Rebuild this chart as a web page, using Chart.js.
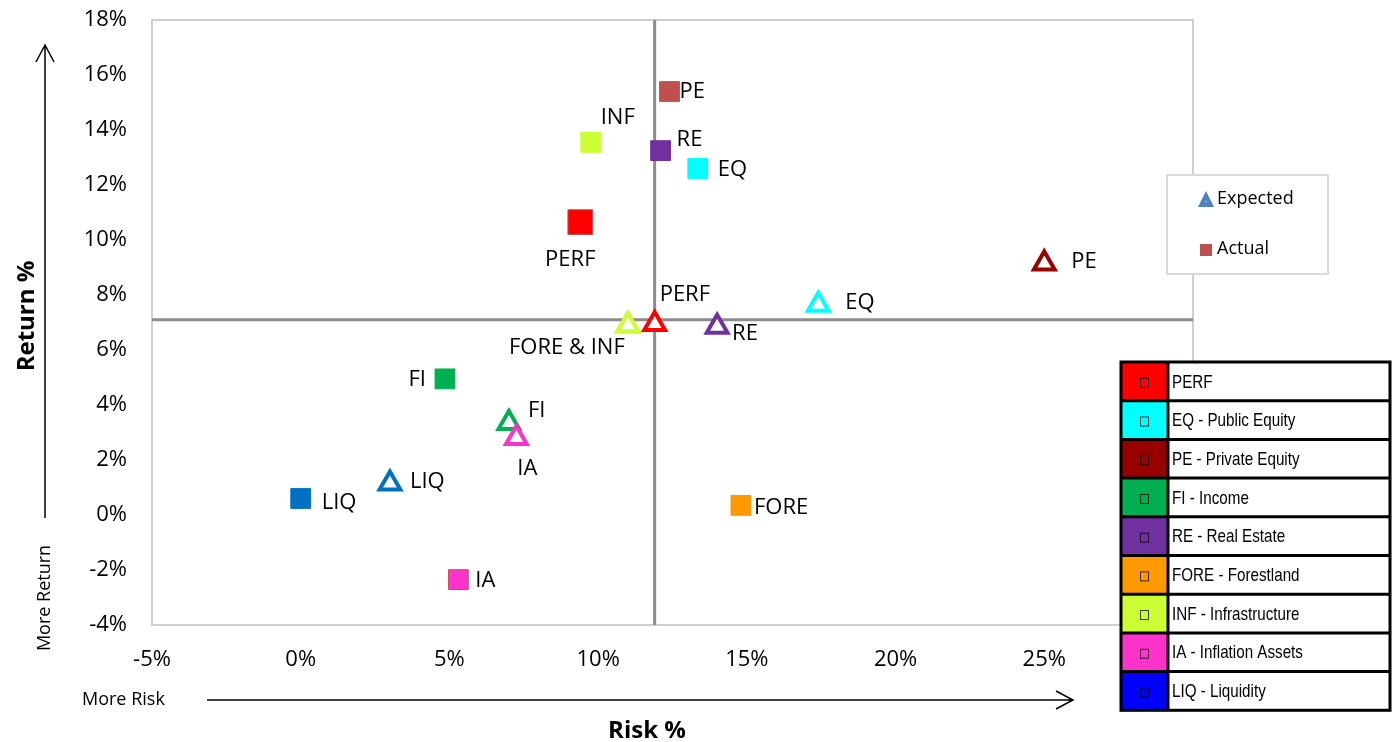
<!DOCTYPE html>
<html>
<head>
<meta charset="utf-8">
<script src="https://cdn.jsdelivr.net/npm/chart.js@4"></script>
<style>
  html, body { margin: 0; padding: 0; background: #fff; }
  #wrap { width: 1395px; height: 742px; position: relative; }
</style>
</head>
<body>
<div id="wrap"><canvas id="chart" width="1395" height="742"></canvas></div>
<script>
// asset classes, same order for both series
const categories = ['PERF', 'EQ', 'PE', 'FI', 'RE', 'FORE', 'INF', 'IA', 'LIQ'];
const tableNames = ['PERF', 'EQ - Public Equity', 'PE - Private Equity', 'FI - Income', 'RE - Real Estate',
  'FORE - Forestland', 'INF - Infrastructure', 'IA - Inflation Assets', 'LIQ - Liquidity'];

// risk (x) / return (y), percent
const actualRisk = [9.4, 13.35, 12.4, 4.85, 12.1, 14.8, 9.75, 5.3, 0.0];
const actualReturn = [10.65, 12.6, 15.4, 4.95, 13.25, 0.35, 13.55, -2.35, 0.6];
const expectedRisk = [11.9, 17.4, 25.0, 7.0, 14.0, 11.0, 11.0, 7.25, 3.0];
const expectedReturn = [6.95, 7.65, 9.15, 3.35, 6.85, 6.9, 6.9, 2.8, 1.15];
const expectedLabels = ['PERF', 'EQ', 'PE', 'FI', 'RE', '', 'FORE & INF', 'IA', 'LIQ'];

// crosshair (averages)
const avgRisk = 11.9;
const avgReturn = 7.1;

const xTicks = [-5, 0, 5, 10, 15, 20, 25, 30];
const yTicks = [-4, -2, 0, 2, 4, 6, 8, 10, 12, 14, 16, 18];

// styling
const actualFill = ['#FF0000', '#00FFFF', '#C0504D', '#00B050', '#7030A0', '#FF9900', '#CCFF33', '#FF33CC', '#0070C0'];
const actualEdge = ['#C0504D', '#00FFFF', '#C0504D', '#00B050', '#7030A0', '#FF9900', '#CCFF33', '#C0504D', '#0070C0'];
const expectedColor = ['#FF0000', '#00FFFF', '#990000', '#00B050', '#7030A0', '#FF9900', '#CCFF33', '#FF33CC', '#0070C0'];
const tableColor = ['#FF0000', '#00FFFF', '#990000', '#00B050', '#7030A0', '#FF9900', '#CCFF33', '#FF33CC', '#0000FF'];
const actualLabelPos = [[-10, 38, 'center'], [20, 1, 'left'], [10, 0, 'left'], [-19, 1, 'right'], [16, -11, 'left'],
  [13, 2, 'left'], [10, -25, 'left'], [17, 1, 'left'], [21, 4, 'left']];
const expectedLabelPos = [[5, -29, 'left'], [27, -2, 'left'], [27, -2, 'left'], [19, -12, 'left'], [15, 7, 'left'],
  [0, 0, 'left'], [-61, 22, 'center'], [11, 31, 'center'], [20, -2, 'left']];

const FONT = "'Open Sans', sans-serif";

const decor = {
  id: 'decor',
  beforeDatasetsDraw(chart) {
    const { ctx, chartArea: a, scales: { x, y } } = chart;
    ctx.save();
    ctx.strokeStyle = '#BFBFBF';
    ctx.lineWidth = 1.5;
    ctx.strokeRect(a.left, a.top, a.right - a.left, a.bottom - a.top);
    ctx.strokeStyle = '#8C8C8C';
    ctx.lineWidth = 3;
    const cx = x.getPixelForValue(avgRisk), cy = y.getPixelForValue(avgReturn);
    ctx.beginPath();
    ctx.moveTo(cx, a.top); ctx.lineTo(cx, a.bottom);
    ctx.moveTo(a.left, cy); ctx.lineTo(a.right, cy);
    ctx.stroke();
    ctx.restore();
  },
  afterDraw(chart) {
    const { ctx } = chart;
    ctx.save();
    ctx.fillStyle = '#000';
    ctx.textBaseline = 'middle';

    // point labels
    ctx.font = '22px ' + FONT;
    [[0, categories, actualLabelPos], [1, expectedLabels, expectedLabelPos]].forEach(([di, labels, pos]) => {
      chart.getDatasetMeta(di).data.forEach((pt, i) => {
        if (!labels[i]) return;
        ctx.textAlign = pos[i][2];
        ctx.fillText(labels[i], pt.x + pos[i][0], pt.y + pos[i][1]);
      });
    });

    // axis titles + arrows
    ctx.textAlign = 'center';
    ctx.font = 'bold 24px ' + FONT;
    ctx.fillText('Risk %', 647, 731);
    ctx.save();
    ctx.translate(27, 316);
    ctx.rotate(-Math.PI / 2);
    ctx.fillText('Return %', 0, 0);
    ctx.restore();

    ctx.font = '18px ' + FONT;
    ctx.textAlign = 'left';
    ctx.fillText('More Risk', 82, 700);
    ctx.save();
    ctx.translate(45, 598);
    ctx.rotate(-Math.PI / 2);
    ctx.textAlign = 'center';
    ctx.fillText('More Return', 0, 0);
    ctx.restore();

    ctx.strokeStyle = '#000';
    ctx.lineWidth = 1.5;
    ctx.beginPath();
    ctx.moveTo(45, 518); ctx.lineTo(45, 45);
    ctx.moveTo(36, 62); ctx.lineTo(45, 45); ctx.lineTo(54, 62);
    ctx.moveTo(207, 700); ctx.lineTo(1073, 700);
    ctx.moveTo(1056, 691); ctx.lineTo(1073, 700); ctx.lineTo(1056, 709);
    ctx.stroke();

    // Expected / Actual legend box
    ctx.fillStyle = '#fff';
    ctx.fillRect(1167, 175, 161, 99);
    ctx.strokeStyle = '#D9D9D9';
    ctx.lineWidth = 2;
    ctx.strokeRect(1167, 175, 161, 99);
    ctx.fillStyle = '#4F81BD';
    ctx.beginPath();
    ctx.moveTo(1206, 191); ctx.lineTo(1214, 207); ctx.lineTo(1198, 207);
    ctx.closePath(); ctx.fill();
    ctx.fillStyle = '#fff';
    ctx.fillRect(1205.5, 201, 1.2, 1.2);
    ctx.fillStyle = '#C0504D';
    ctx.fillRect(1200, 244, 12, 12);
    ctx.fillStyle = '#000';
    ctx.font = '18px ' + FONT;
    ctx.textAlign = 'left';
    ctx.fillText('Expected', 1217, 199);
    ctx.fillText('Actual', 1217, 249);

    // category table
    const tx = 1121, ty = 362, tw = 269, rh = 38.7, sw = 47;
    ctx.fillStyle = '#fff';
    ctx.fillRect(tx, ty, tw, rh * tableNames.length);
    ctx.font = "19px 'Liberation Sans', sans-serif";
    tableNames.forEach((name, i) => {
      const ry = ty + i * rh;
      ctx.fillStyle = tableColor[i];
      ctx.fillRect(tx, ry, sw, rh);
      ctx.strokeStyle = 'rgba(0,0,0,0.75)';
      ctx.lineWidth = 1;
      ctx.strokeRect(tx + sw / 2 - 4, ry + rh / 2 - 3, 8, 9);
      ctx.fillStyle = '#000';
      ctx.save();
      ctx.translate(tx + sw + 4, ry + rh / 2 + 1);
      ctx.scale(0.8, 1);
      ctx.fillText(name, 0, 0);
      ctx.restore();
    });
    ctx.strokeStyle = '#000';
    ctx.lineWidth = 3;
    ctx.beginPath();
    for (let i = 1; i < tableNames.length; i++) {
      ctx.moveTo(tx, ty + i * rh); ctx.lineTo(tx + tw, ty + i * rh);
    }
    ctx.moveTo(tx + sw, ty); ctx.lineTo(tx + sw, ty + rh * tableNames.length);
    ctx.stroke();
    ctx.strokeRect(tx, ty, tw, rh * tableNames.length);
    ctx.restore();
  }
};

new Chart(document.getElementById('chart'), {
  type: 'scatter',
  data: {
    datasets: [
      {
        label: 'Actual',
        data: actualRisk.map((v, i) => ({ x: v, y: actualReturn[i] })),
        pointStyle: 'rect',
        pointRadius: categories.map(c => c === 'PERF' ? 17.5 : 14),
        pointBackgroundColor: actualFill,
        pointBorderColor: actualEdge,
        pointBorderWidth: 1
      },
      {
        label: 'Expected',
        data: expectedRisk.map((v, i) => ({ x: v, y: expectedReturn[i] })),
        pointStyle: 'triangle',
        pointRadius: 12,
        pointBackgroundColor: '#fff',
        pointBorderColor: expectedColor,
        pointBorderWidth: 4
      }
    ]
  },
  options: {
    responsive: false,
    animation: false,
    events: [],
    layout: { padding: { top: 20, right: 202, left: 0, bottom: 0 } },
    plugins: { legend: { display: false }, tooltip: { enabled: false } },
    scales: {
      x: {
        type: 'linear',
        min: -5, max: 30,
        afterFit: s => { s.height = 117; s.paddingLeft = 0; s.paddingRight = 0; },
        afterBuildTicks: s => { s.ticks = xTicks.map(v => ({ value: v })); },
        grid: { display: false, drawTicks: false },
        border: { display: false },
        ticks: { color: '#000', padding: 22, maxRotation: 0, font: { family: FONT, size: 22 }, callback: v => v + '%' }
      },
      y: {
        type: 'linear',
        min: -4, max: 18,
        afterFit: s => { s.width = 152; s.paddingTop = 0; s.paddingBottom = 0; },
        afterBuildTicks: s => { s.ticks = yTicks.map(v => ({ value: v })); },
        grid: { display: false, drawTicks: false },
        border: { display: false },
        ticks: { color: '#000', padding: 25, font: { family: FONT, size: 22 }, callback: v => v + '%' }
      }
    }
  },
  plugins: [decor]
});
</script>
</body>
</html>
